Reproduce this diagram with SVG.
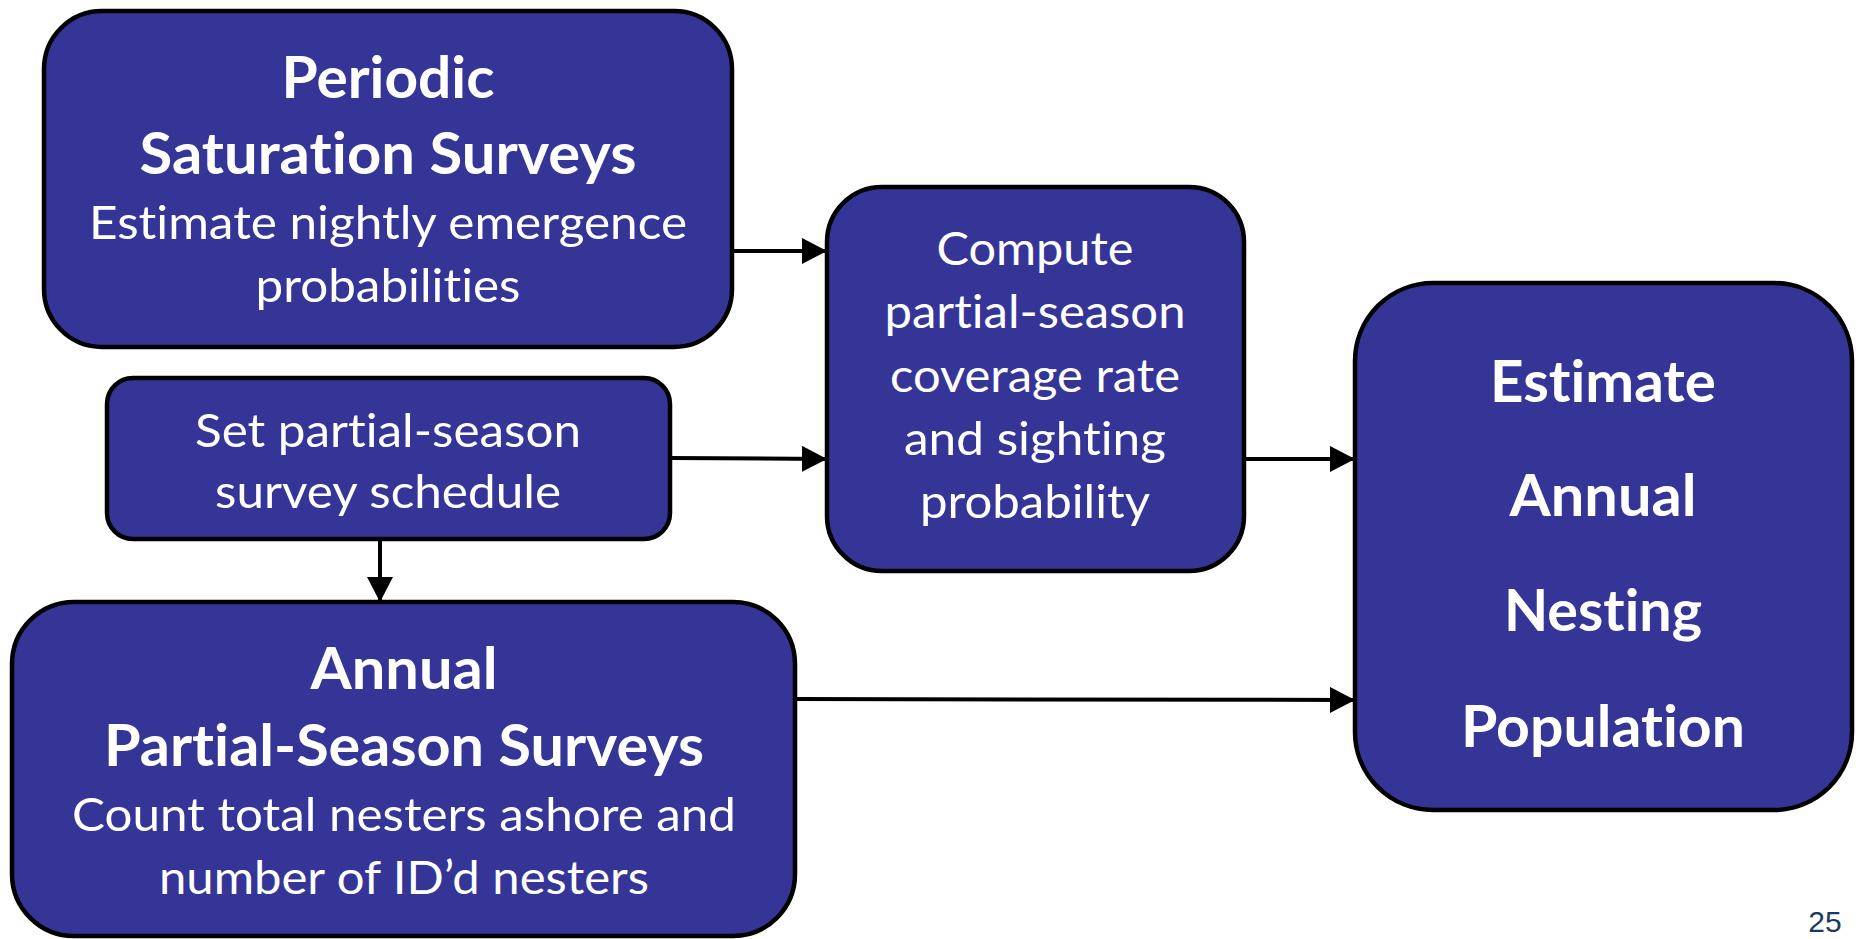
<svg xmlns="http://www.w3.org/2000/svg" width="1858" height="939" viewBox="0 0 1858 939">
<defs>
<marker id="ah" markerUnits="userSpaceOnUse" markerWidth="26" markerHeight="26" refX="25" refY="13" orient="auto">
<path d="M0,0 L25,13 L0,26 Z" fill="#000"/>
</marker>
<style>
.box{fill:#353598;stroke:#000;stroke-width:4.5}
.t{font-family:Lato,"Open Sans","Liberation Sans",sans-serif;fill:#fff;text-anchor:middle;font-variant-ligatures:none;font-feature-settings:"liga" 0,"clig" 0}
.b{font-weight:bold;font-size:57px}
.r{font-size:47px}
.c{stroke:#000;stroke-width:4;fill:none;marker-end:url(#ah)}
</style>
</defs>
<rect width="1858" height="939" fill="#fff"/>
<g id="connectors">
<line class="c" x1="732" y1="251" x2="827" y2="251"/>
<line class="c" x1="670" y1="458" x2="827" y2="459"/>
<line class="c" x1="1244" y1="459" x2="1355" y2="459"/>
<line class="c" x1="795" y1="699" x2="1355" y2="700"/>
<line class="c" x1="380" y1="539" x2="380" y2="602"/>
</g>
<g id="node-periodic">
<rect class="box" x="44" y="11" width="688" height="336" rx="58"/>
<text class="t b" x="388" y="98" textLength="213" lengthAdjust="spacingAndGlyphs">Periodic</text>
<text class="t b" x="388" y="174" textLength="497" lengthAdjust="spacingAndGlyphs">Saturation Surveys</text>
<text class="t r" x="388" y="239" textLength="598" lengthAdjust="spacingAndGlyphs">Estimate nightly emergence</text>
<text class="t r" x="388" y="302" textLength="265" lengthAdjust="spacingAndGlyphs">probabilities</text>
</g>
<g id="node-schedule">
<rect class="box" x="107" y="378" width="563" height="161" rx="26"/>
<text class="t r" x="388" y="447" textLength="386" lengthAdjust="spacingAndGlyphs">Set partial-season</text>
<text class="t r" x="388" y="508" textLength="346" lengthAdjust="spacingAndGlyphs">survey schedule</text>
</g>
<g id="node-compute">
<rect class="box" x="827" y="187" width="417" height="384" rx="55"/>
<text class="t r" x="1035" y="265" textLength="197" lengthAdjust="spacingAndGlyphs">Compute</text>
<text class="t r" x="1035" y="328" textLength="301" lengthAdjust="spacingAndGlyphs">partial-season</text>
<text class="t r" x="1035" y="392" textLength="290" lengthAdjust="spacingAndGlyphs">coverage rate</text>
<text class="t r" x="1035" y="455" textLength="262" lengthAdjust="spacingAndGlyphs">and sighting</text>
<text class="t r" x="1035" y="518" textLength="230" lengthAdjust="spacingAndGlyphs">probability</text>
</g>
<g id="node-estimate">
<rect class="box" x="1355" y="283" width="497" height="527" rx="78"/>
<text class="t b" x="1603" y="402" textLength="226" lengthAdjust="spacingAndGlyphs">Estimate</text>
<text class="t b" x="1603" y="516" textLength="187" lengthAdjust="spacingAndGlyphs">Annual</text>
<text class="t b" x="1603" y="631" textLength="198" lengthAdjust="spacingAndGlyphs">Nesting</text>
<text class="t b" x="1603" y="747" textLength="284" lengthAdjust="spacingAndGlyphs">Population</text>
</g>
<g id="node-annual">
<rect class="box" x="12" y="602" width="783" height="334" rx="62"/>
<text class="t b" x="404" y="689" textLength="187" lengthAdjust="spacingAndGlyphs">Annual</text>
<text class="t b" x="404" y="766" textLength="600" lengthAdjust="spacingAndGlyphs">Partial-Season Surveys</text>
<text class="t r" x="404" y="831" textLength="664" lengthAdjust="spacingAndGlyphs">Count total nesters ashore and</text>
<text class="t r" x="404" y="894" textLength="490" lengthAdjust="spacingAndGlyphs">number of ID’d nesters</text>
</g>
<text x="1825" y="932" font-family="'Liberation Sans',Arial,sans-serif" font-size="30" fill="#1b3a63" text-anchor="middle">25</text>
</svg>
